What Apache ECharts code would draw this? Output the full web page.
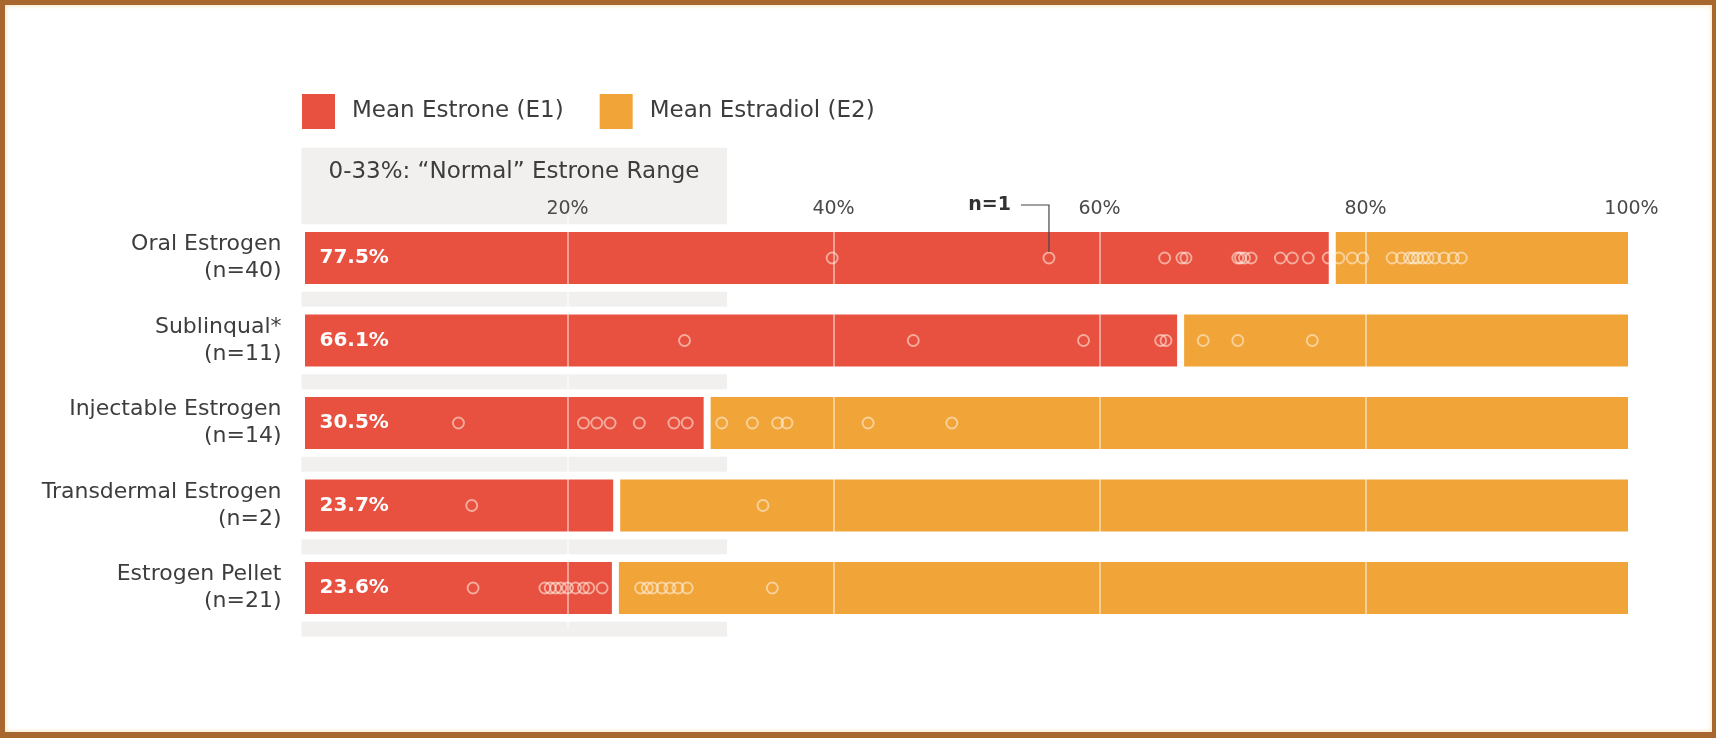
<!DOCTYPE html>
<html><head><meta charset="utf-8">
<script src="https://cdn.jsdelivr.net/npm/echarts@6/dist/echarts.min.js"></script>
<style>
html,body{margin:0;padding:0;background:#fff;}
#wrap{position:relative;width:1716px;height:738px;overflow:hidden;}
#chart{position:absolute;left:0;top:0;width:1716px;height:738px;}
#frame{position:absolute;left:0;top:0;width:1716px;height:738px;box-sizing:border-box;border-style:solid;border-color:#A8672F;border-width:5px 4px 6px 5px;box-shadow:inset 0 0 5px rgba(245,210,140,0.7);pointer-events:none;}
</style></head>
<body><div id="wrap"><div id="chart"></div><div id="frame"></div></div>
<script>
// ---- data ----
const categories = ['Oral Estrogen', 'Sublinqual*', 'Injectable Estrogen', 'Transdermal Estrogen', 'Estrogen Pellet'];
const sampleSizes = [40, 11, 14, 2, 21];
const meanE1 = [77.5, 66.1, 30.5, 23.7, 23.6];
const meanE2 = [22.5, 33.9, 69.5, 76.3, 76.4];
const axisMin = 0, axisMax = 100, axisInterval = 20;
const normalRange = [0, 32];
const normalRangeLabel = '0-33%: \u201CNormal\u201D Estrone Range';
const dotsOral = [39.9, 56.2, 64.9, 66.2, 66.5, 70.4, 70.6, 70.9, 71.4, 73.6, 74.5, 75.7, 77.2, 78.0, 79.0, 79.8, 82.0, 82.7, 83.3, 83.6, 83.9, 84.3, 84.7, 85.2, 85.9, 86.6, 87.2];
const dotsSublingual = [28.8, 46.0, 58.8, 64.6, 65.0, 67.8, 70.4, 76.0];
const dotsInjectable = [11.8, 21.2, 22.2, 23.2, 25.4, 28.0, 29.0, 31.6, 33.9, 35.8, 36.5, 42.6, 48.9];
const dotsTransdermal = [12.8, 34.7];
const dotsPellet = [12.9, 18.3, 18.7, 19.1, 19.5, 20.0, 20.6, 21.2, 21.6, 22.6, 25.5, 26.0, 26.4, 27.1, 27.7, 28.3, 29.0, 35.4];
const annotation = { text: 'n=1', value: 56.2, row: 0 };
const seriesNames = ['Mean Estrone (E1)', 'Mean Estradiol (E2)'];

// ---- chart ----
const FONT = '"DejaVu Sans", Verdana, sans-serif';
const RED = '#E8503F', ORANGE = '#F1A437', BAND = '#F1F0EE', TEXT = '#3d3d3d';
const dotRows = [dotsOral, dotsSublingual, dotsInjectable, dotsTransdermal, dotsPellet];
const dotData = [];
dotRows.forEach((row, i) => row.forEach(v => dotData.push([v, i])));

const chart = echarts.init(document.getElementById('chart'), null, { renderer: 'canvas' });
chart.setOption({
  backgroundColor: 'transparent',
  animation: false,
  textStyle: { fontFamily: FONT },
  legend: {
    data: seriesNames, left: 297, top: 89, icon: 'rect', itemWidth: 33, itemHeight: 35, itemGap: 36,
    itemStyle: { borderWidth: 0 },
    textStyle: { fontSize: 23, color: TEXT, fontFamily: FONT, padding: [0, 0, 0, 12] }
  },
  grid: { left: 301.5, right: 84.5, top: 216.75, bottom: 108.75 },
  xAxis: {
    type: 'value', min: axisMin, max: axisMax, interval: axisInterval, position: 'top', z: 10,
    axisLine: { show: false }, axisTick: { show: false },
    axisLabel: { formatter: v => v === 0 ? '' : v + '%', fontSize: 19, color: '#4a4a4a', margin: -2, fontFamily: FONT },
    splitLine: { show: true, showMinLine: false, showMaxLine: false, lineStyle: { color: 'rgba(255,255,255,0.45)', width: 2 } }
  },
  yAxis: {
    type: 'category', data: categories, inverse: true,
    axisLine: { show: false }, axisTick: { show: false }, splitLine: { show: false },
    axisLabel: {
      formatter: (v, i) => v + '\n(n=' + sampleSizes[i] + ')',
      fontSize: 22, lineHeight: 27, color: TEXT, align: 'right', margin: 20, fontFamily: FONT
    }
  },
  series: [
    {
      type: 'custom', name: 'normalRange', z: 1, silent: true,
      encode: { x: [0, 1], y: 2 },
      data: categories.map((c, i) => [normalRange[0], normalRange[1], i]),
      renderItem: function (params, api) {
        const row = api.value(2);
        const p0 = api.coord([api.value(0), row]);
        const p1 = api.coord([api.value(1), row]);
        const h = api.size([0, 1])[1];
        const bandH = 15;
        const w = p1[0] - p0[0];
        const children = [{ type: 'rect', shape: { x: p0[0], y: p0[1] + h / 2 - bandH / 2, width: w, height: bandH }, style: { fill: BAND } }];
        if (row === 0) {
          const top = p0[1] - h / 2;
          children.push({ type: 'rect', shape: { x: p0[0], y: top - 69, width: w, height: 69 + bandH / 2 }, style: { fill: BAND } });
          children.push({ type: 'text', style: { text: normalRangeLabel, x: p0[0] + 27, y: top - 45, fill: TEXT, font: '23px ' + FONT, verticalAlign: 'middle', align: 'left' } });
        }
        return { type: 'group', children: children };
      }
    },
    {
      type: 'bar', name: seriesNames[0], stack: 'total', data: meanE1, barWidth: 59, z: 2,
      itemStyle: { color: RED, borderColor: '#fff', borderWidth: 3.5 },
      label: { show: true, position: 'insideLeft', distance: 18, formatter: '{c}%', color: '#fff', fontWeight: 'bold', fontSize: 20, fontFamily: FONT }
    },
    {
      type: 'bar', name: seriesNames[1], stack: 'total', data: meanE2, barWidth: 59, z: 2,
      itemStyle: { color: ORANGE, borderColor: '#fff', borderWidth: 3.5 }
    },
    {
      type: 'scatter', name: 'individuals', data: dotData, z: 5, silent: true,
      symbol: 'circle', symbolSize: 11,
      itemStyle: { color: 'rgba(0,0,0,0)', borderColor: 'rgba(255,244,232,0.7)', borderWidth: 1.9 }
    },
    {
      type: 'custom', name: 'annotation', z: 6, silent: true,
      data: [[annotation.value, annotation.row]],
      renderItem: function (params, api) {
        const p = api.coord([api.value(0), api.value(1)]);
        const ly = p[1] - 53;
        return {
          type: 'group', children: [
            { type: 'polyline', shape: { points: [[p[0] - 28, ly], [p[0], ly], [p[0], p[1] - 6]] }, style: { stroke: '#444', lineWidth: 1.2, fill: null } },
            { type: 'text', style: { text: annotation.text, x: p[0] - 38, y: ly, fill: '#333', font: 'bold 19px ' + FONT, align: 'right', verticalAlign: 'middle' } }
          ]
        };
      }
    }
  ]
});
</script>
</body></html>
